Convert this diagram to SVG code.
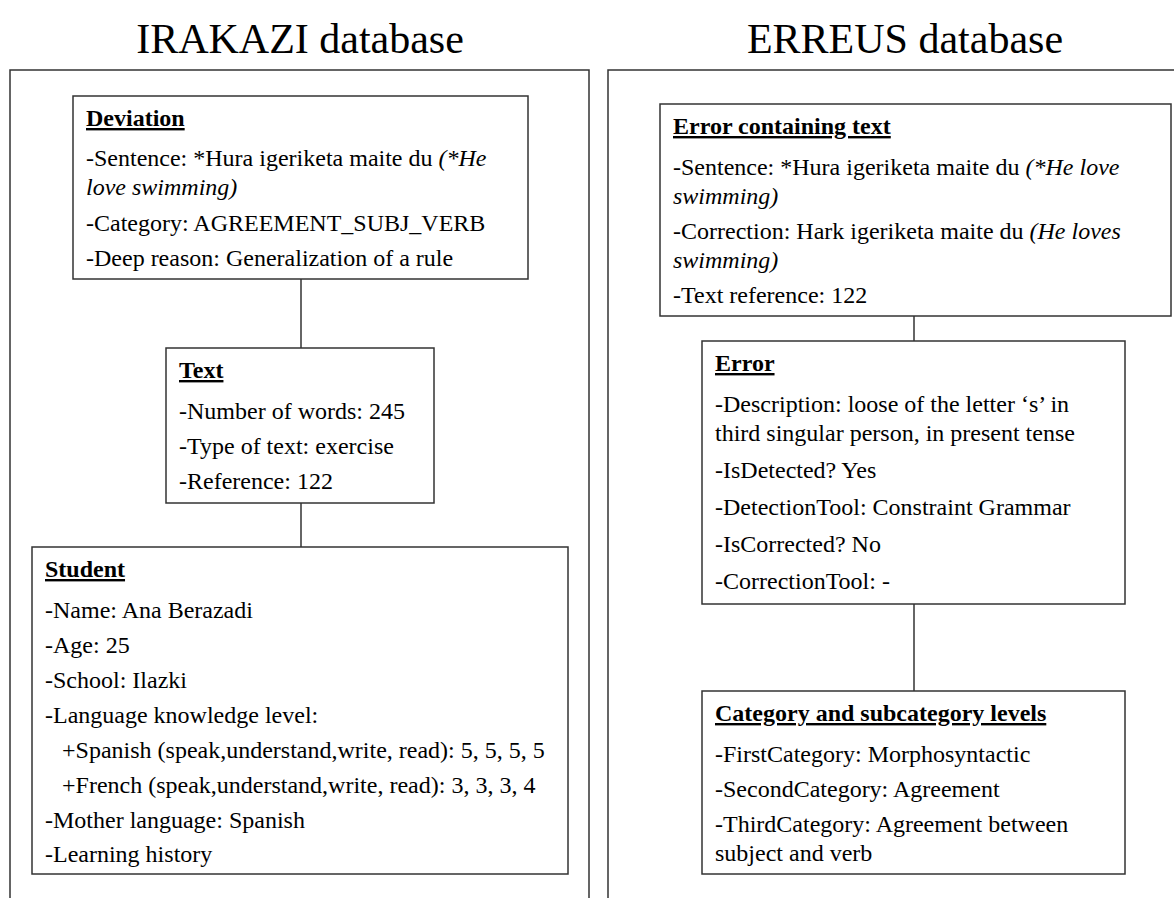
<svg xmlns="http://www.w3.org/2000/svg" width="1174" height="898" viewBox="0 0 1174 898">
<style>
text{font-family:"Liberation Serif","Times New Roman",serif;font-size:24px;fill:#000}
.title{font-size:42px}
.h{font-weight:bold;text-decoration:underline}
.i{font-style:italic}
.box{fill:#fff;stroke:#333;stroke-width:1.5}
.frame{fill:none;stroke:#333;stroke-width:1.5}
.conn line{stroke:#333;stroke-width:1.5}
</style>
<rect width="1174" height="898" fill="#fff"/>
<g id="irakazi-panel">
<text class="title" x="300" y="53" text-anchor="middle">IRAKAZI database</text>
<path class="frame" d="M10,898 V70 H589 V898"/>
</g>
<g id="erreus-panel">
<text class="title" x="905" y="53" text-anchor="middle">ERREUS database</text>
<path class="frame" d="M608,898 V70 H1180"/>
</g>
<g class="conn" id="connectors">
<line x1="301" y1="279" x2="301" y2="348"/>
<line x1="301" y1="503" x2="301" y2="547"/>
<line x1="914" y1="316" x2="914" y2="341"/>
<line x1="914" y1="604" x2="914" y2="691"/>
</g>
<g id="deviation">
<rect class="box" x="73" y="96" width="455" height="183"/>
<text class="h" x="86" y="126">Deviation</text>
<text x="86" y="166">-Sentence: *Hura igeriketa maite du <tspan class="i">(*He</tspan></text>
<text class="i" x="86" y="195">love swimming)</text>
<text x="86" y="231">-Category: AGREEMENT_SUBJ_VERB</text>
<text x="86" y="266">-Deep reason: Generalization of a rule</text>
</g>
<g id="text">
<rect class="box" x="166" y="348" width="268" height="155"/>
<text class="h" x="179" y="378">Text</text>
<text x="179" y="419">-Number of words: 245</text>
<text x="179" y="454">-Type of text: exercise</text>
<text x="179" y="489">-Reference: 122</text>
</g>
<g id="student">
<rect class="box" x="32" y="547" width="536" height="327"/>
<text class="h" x="45" y="577">Student</text>
<text x="45" y="618">-Name: Ana Berazadi</text>
<text x="45" y="653">-Age: 25</text>
<text x="45" y="688">-School: Ilazki</text>
<text x="45" y="723">-Language knowledge level:</text>
<text x="62" y="758">+Spanish (speak,understand,write, read): 5, 5, 5, 5</text>
<text x="62" y="793">+French (speak,understand,write, read): 3, 3, 3, 4</text>
<text x="45" y="828">-Mother language: Spanish</text>
<text x="45" y="862">-Learning history</text>
</g>
<g id="error-containing-text">
<rect class="box" x="660" y="104" width="511" height="212"/>
<text class="h" x="673" y="134">Error containing text</text>
<text x="673" y="175">-Sentence: *Hura igeriketa maite du <tspan class="i">(*He love</tspan></text>
<text class="i" x="673" y="204">swimming)</text>
<text x="673" y="239">-Correction: Hark igeriketa maite du <tspan class="i">(He loves</tspan></text>
<text class="i" x="673" y="268">swimming)</text>
<text x="673" y="303">-Text reference: 122</text>
</g>
<g id="error">
<rect class="box" x="702" y="341" width="423" height="263"/>
<text class="h" x="715" y="371">Error</text>
<text x="715" y="412">-Description: loose of the letter ‘s’ in</text>
<text x="715" y="441">third singular person, in present tense</text>
<text x="715" y="478">-IsDetected? Yes</text>
<text x="715" y="515">-DetectionTool: Constraint Grammar</text>
<text x="715" y="552">-IsCorrected? No</text>
<text x="715" y="589">-CorrectionTool: -</text>
</g>
<g id="category">
<rect class="box" x="702" y="691" width="423" height="183"/>
<text class="h" x="715" y="721">Category and subcategory levels</text>
<text x="715" y="762">-FirstCategory: Morphosyntactic</text>
<text x="715" y="797">-SecondCategory: Agreement</text>
<text x="715" y="832">-ThirdCategory: Agreement between</text>
<text x="715" y="861">subject and verb</text>
</g>
</svg>
